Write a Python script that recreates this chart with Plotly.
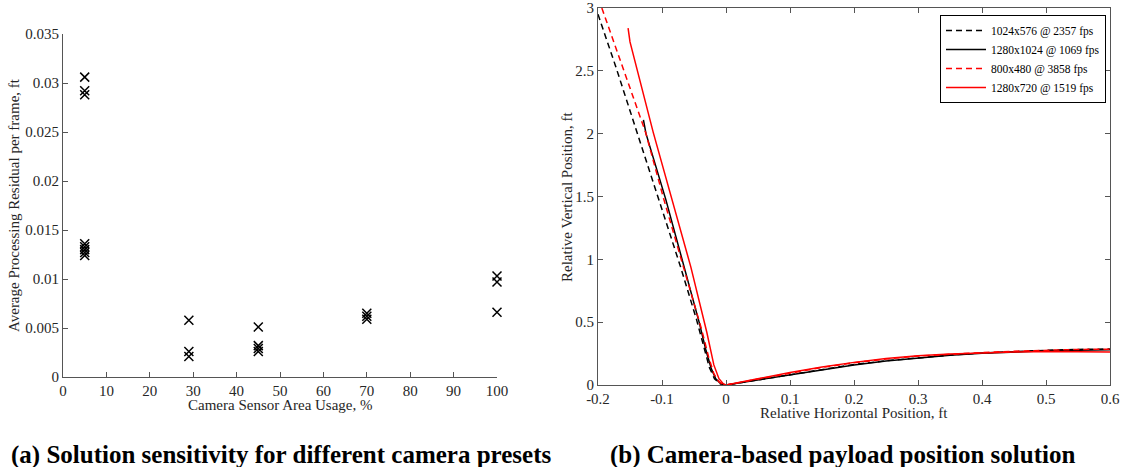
import plotly.graph_objects as go

# ---------------- data: left panel ----------------
usage_pct = [5, 5, 5, 5, 5, 5, 5, 5,
             29, 29, 29,
             45, 45, 45, 45,
             70, 70, 70,
             100, 100, 100]
residual_ft = [0.0306, 0.0292, 0.0288, 0.0136, 0.0133, 0.0130, 0.0127, 0.0124,
               0.0058, 0.0026, 0.0021,
               0.0051, 0.0032, 0.0029, 0.0026,
               0.0065, 0.0062, 0.0059,
               0.0103, 0.0097, 0.0066]

left_xticks = [0, 10, 20, 30, 40, 50, 60, 70, 80, 90, 100]
left_yticks = [0, 0.005, 0.01, 0.015, 0.02, 0.025, 0.03, 0.035]
left_yticklabels = ["0", "0.005", "0.01", "0.015", "0.02", "0.025", "0.03", "0.035"]

# ---------------- data: right panel ----------------
bd_x = [-0.200, -0.173, -0.139, -0.105, -0.071, -0.046, -0.034, -0.026, -0.018, -0.009, 0.0,
        0.05, 0.1, 0.15, 0.2, 0.25, 0.3, 0.35, 0.4, 0.45, 0.5, 0.55, 0.6]
bd_y = [2.95, 2.545, 2.01, 1.475, 0.94, 0.52, 0.28, 0.14, 0.05, 0.01, 0.0,
        0.042, 0.085, 0.126, 0.163, 0.193, 0.218, 0.238, 0.255, 0.267, 0.276, 0.283, 0.287]

bs_x = [-0.129, -0.125, -0.094, -0.065, -0.042, -0.031, -0.023, -0.016, -0.008, 0.0,
        0.05, 0.1, 0.15, 0.2, 0.25, 0.3, 0.35, 0.4, 0.45, 0.5, 0.55, 0.6]
bs_y = [2.11, 2.00, 1.475, 0.94, 0.50, 0.27, 0.13, 0.05, 0.01, 0.0,
        0.040, 0.082, 0.122, 0.160, 0.190, 0.215, 0.236, 0.252, 0.264, 0.272, 0.277, 0.280]

rd_x = [-0.194, -0.1256, -0.097, -0.066, -0.038, -0.027, -0.019, -0.011, -0.004, 0.0,
        0.05, 0.1, 0.15, 0.2, 0.25, 0.3, 0.35, 0.4, 0.45, 0.5, 0.55, 0.6]
rd_y = [3.0, 2.01, 1.475, 0.94, 0.44, 0.22, 0.09, 0.025, 0.004, 0.0,
        0.048, 0.097, 0.140, 0.177, 0.207, 0.230, 0.246, 0.258, 0.269, 0.278, 0.283, 0.285]

rs_x = [-0.153, -0.150, -0.1137, -0.0838, -0.055, -0.030, -0.019, -0.011, -0.004, 0.0,
        0.05, 0.1, 0.15, 0.2, 0.25, 0.3, 0.35, 0.4, 0.45, 0.5, 0.55, 0.6]
rs_y = [2.84, 2.73, 2.01, 1.475, 0.94, 0.42, 0.16, 0.05, 0.008, 0.0,
        0.050, 0.100, 0.143, 0.180, 0.210, 0.232, 0.246, 0.255, 0.262, 0.266, 0.265, 0.262]

series_names = ["1024x576 @ 2357 fps", "1280x1024 @ 1069 fps",
                "800x480 @ 3858 fps", "1280x720 @ 1519 fps"]

right_xticks = [-0.2, -0.1, 0, 0.1, 0.2, 0.3, 0.4, 0.5, 0.6]
right_xticklabels = ["-0.2", "-0.1", "0", "0.1", "0.2", "0.3", "0.4", "0.5", "0.6"]
right_yticks = [0, 0.5, 1, 1.5, 2, 2.5, 3]
right_yticklabels = ["0", "0.5", "1", "1.5", "2", "2.5", "3"]

W, H = 1122, 467
FONT = "Liberation Serif"
AX = "#555555"
TXT = "#262626"

fig = go.Figure()

fig.add_trace(go.Scatter(
    x=usage_pct, y=residual_ft, mode="markers", xaxis="x", yaxis="y",
    cliponaxis=False,
    marker=dict(symbol="x-thin", size=9, color="black",
                line=dict(width=1.5, color="black")),
    showlegend=False))

line_specs = [
    (bd_x, bd_y, "black", "6px,4px"),
    (bs_x, bs_y, "black", "solid"),
    (rd_x, rd_y, "#ff0000", "6px,4px"),
    (rs_x, rs_y, "#ff0000", "solid"),
]
for (xs, ys, col, dash), name in zip(line_specs, series_names):
    fig.add_trace(go.Scatter(
        x=xs, y=ys, mode="lines", xaxis="x2", yaxis="y2", name=name,
        line=dict(color=col, width=1.5, dash=dash)))

def px_x(p):
    return p / W

def px_y(p):
    return (H - p) / H

common = dict(showgrid=False, zeroline=False, ticks="inside", ticklen=5,
              tickcolor=AX, linecolor=AX, linewidth=1, showline=True,
              automargin=False,
              tickfont=dict(family=FONT, size=15, color=TXT))

fig.update_layout(
    width=W, height=H,
    margin=dict(l=0, r=0, t=0, b=0, autoexpand=False),
    paper_bgcolor="white", plot_bgcolor="white",
    font=dict(family=FONT, color=TXT),
    xaxis=dict(domain=[px_x(63), px_x(497)], range=[0, 100],
               tickvals=left_xticks, anchor="y", **common),
    yaxis=dict(domain=[px_y(377), px_y(34)], range=[0, 0.035],
               tickvals=left_yticks, ticktext=left_yticklabels, anchor="x", **common),
    xaxis2=dict(domain=[px_x(598), px_x(1110)], range=[-0.2, 0.6],
                tickvals=right_xticks, ticktext=right_xticklabels, anchor="y2",
                mirror="ticks", **common),
    yaxis2=dict(domain=[px_y(385), px_y(8)], range=[0, 3],
                tickvals=right_yticks, ticktext=right_yticklabels, anchor="x2",
                mirror="ticks", **common),
    legend=dict(x=px_x(940), y=px_y(15), xanchor="left", yanchor="top",
                bgcolor="white", bordercolor="black", borderwidth=1,
                font=dict(family=FONT, size=11.5, color="black"),
                tracegroupgap=0, itemwidth=40),
    showlegend=True,
)

annots = [
    dict(text="Camera Sensor Area Usage, %", x=px_x(280), y=px_y(405), size=15, angle=0, bold=False),
    dict(text="Average Processing Residual per frame, ft", x=px_x(14), y=px_y(205), size=15, angle=-90, bold=False),
    dict(text="Relative Horizontal Position, ft", x=px_x(854), y=px_y(413), size=15, angle=0, bold=False),
    dict(text="Relative Vertical Position, ft", x=px_x(567), y=px_y(197), size=15, angle=-90, bold=False),
    dict(text="<b>(a) Solution sensitivity for different camera presets</b>", x=px_x(281), y=px_y(455), size=25, angle=0, bold=True),
    dict(text="<b>(b) Camera-based payload position solution</b>", x=px_x(842), y=px_y(455), size=25, angle=0, bold=True),
]
for a in annots:
    fig.add_annotation(text=a["text"], x=a["x"], y=a["y"], xref="paper", yref="paper",
                       xanchor="center", yanchor="middle", showarrow=False,
                       textangle=a["angle"],
                       font=dict(family=FONT, size=a["size"], color="black" if a["bold"] else TXT))

fig.write_html("out.html")
